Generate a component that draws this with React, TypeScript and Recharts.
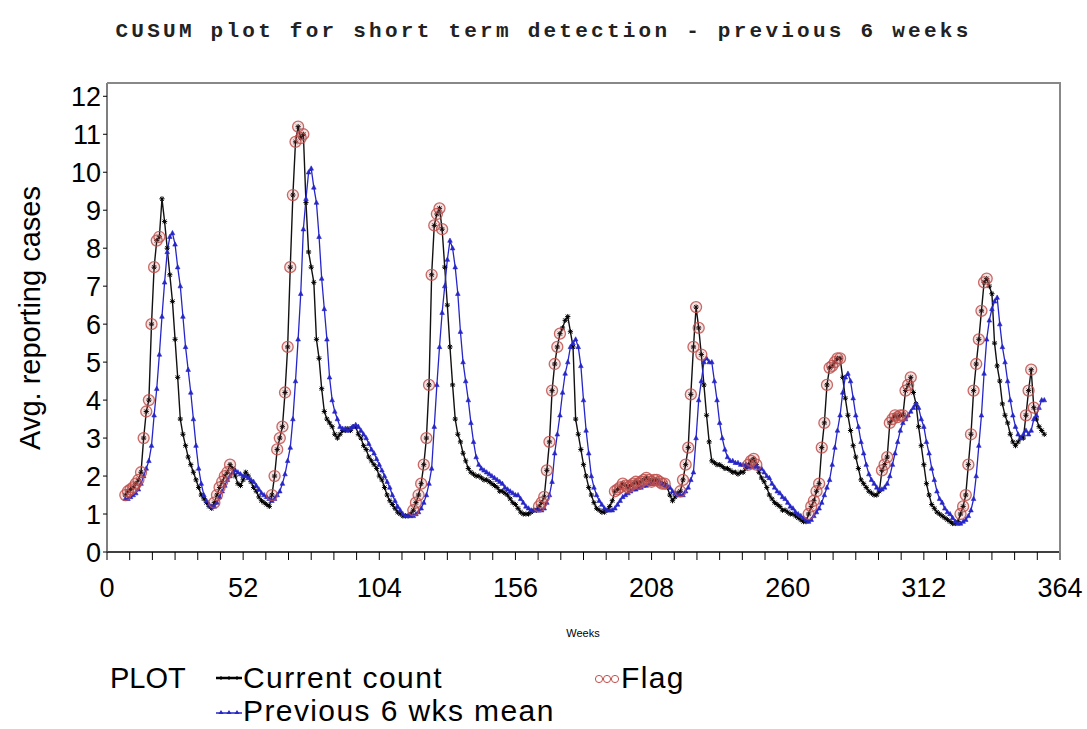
import { LineChart, Line, XAxis, YAxis } from 'recharts';

const START_WEEK = 7;

// weekly average of reporting cases, weeks 7..358
const CURRENT_COUNT = [
  1.5, 1.6, 1.65, 1.7, 1.8, 1.9, 2.1, 3.0, 3.7, 4.0,
  6.0, 7.5, 8.2, 8.3, 9.3, 8.7, 8.0, 7.3, 6.6, 5.6,
  4.6, 3.5, 3.1, 2.8, 2.5, 2.3, 2.1, 1.9, 1.7, 1.5,
  1.4, 1.3, 1.2, 1.15, 1.3, 1.5, 1.7, 1.85, 2.0, 2.1,
  2.3, 2.2, 2.0, 1.8, 1.75, 1.9, 2.1, 2.0, 1.85, 1.7,
  1.6, 1.45, 1.35, 1.3, 1.25, 1.2, 1.5, 2.0, 2.7, 3.0,
  3.3, 4.2, 5.4, 7.5, 9.4, 10.8, 11.2, 10.9, 11.0, 9.2,
  7.9, 7.5, 7.1, 5.6, 5.1, 4.3, 3.7, 3.5, 3.4, 3.3,
  3.1, 3.0, 3.1, 3.2, 3.2, 3.25, 3.2, 3.3, 3.3, 3.1,
  3.0, 2.8, 2.7, 2.5, 2.4, 2.3, 2.2, 2.0, 1.9, 1.7,
  1.5, 1.35, 1.25, 1.15, 1.05, 1.0, 0.95, 0.95, 0.95, 1.0,
  1.1, 1.3, 1.5, 1.8, 2.3, 3.0, 4.4, 7.3, 8.6, 8.9,
  9.05, 8.5, 7.5, 6.5, 5.4, 4.4, 3.5, 3.1, 2.9, 2.6,
  2.4, 2.2, 2.1, 2.05, 2.0, 2.0, 1.95, 1.9, 1.9, 1.85,
  1.8, 1.75, 1.7, 1.6, 1.6, 1.55, 1.5, 1.4, 1.3, 1.25,
  1.15, 1.05, 1.0, 1.0, 1.0, 1.05, 1.1, 1.1, 1.2, 1.3,
  1.45, 2.15, 2.9, 4.25, 4.95, 5.4, 5.75, 5.9, 6.1, 6.2,
  5.8, 5.4, 3.5, 3.1, 2.7, 2.3, 2.0, 1.7, 1.5, 1.3,
  1.15, 1.1, 1.05, 1.05, 1.1, 1.2, 1.35, 1.6, 1.65, 1.7,
  1.8, 1.75, 1.7, 1.75, 1.8, 1.85, 1.8, 1.85, 1.9, 1.95,
  1.9, 1.85, 1.9, 1.9, 1.85, 1.8, 1.8, 1.7, 1.5, 1.35,
  1.45, 1.55, 1.6, 1.9, 2.3, 2.75, 4.15, 5.4, 6.45, 5.9,
  5.2, 4.4, 3.6, 2.9, 2.4, 2.35, 2.3, 2.3, 2.25, 2.2,
  2.2, 2.15, 2.1, 2.1, 2.05, 2.1, 2.1, 2.2, 2.3, 2.4,
  2.45, 2.3, 2.1, 1.95, 1.85, 1.7, 1.5, 1.4, 1.3, 1.25,
  1.2, 1.1, 1.1, 1.05, 1.0, 1.0, 0.95, 0.9, 0.85, 0.8,
  0.8, 1.0, 1.2, 1.35, 1.6, 1.8, 2.75, 3.4, 4.4, 4.85,
  4.9, 5.0, 5.1, 5.1, 4.6, 4.05, 3.6, 3.2, 2.8, 2.5,
  2.2, 1.9, 1.8, 1.7, 1.6, 1.55, 1.5, 1.5, 1.6, 2.15,
  2.3, 2.5, 3.4, 3.5, 3.6, 3.55, 3.6, 3.6, 4.25, 4.4,
  4.6, 4.2, 3.9, 3.3, 2.8, 2.3, 1.8, 1.5, 1.25, 1.15,
  1.05, 1.0, 0.95, 0.9, 0.85, 0.8, 0.75, 0.75, 0.8, 1.0,
  1.2, 1.5, 2.3, 3.1, 4.25, 4.95, 5.6, 6.35, 7.1, 7.2,
  7.0, 6.8, 5.5, 4.9, 4.5, 3.9, 3.6, 3.4, 3.1, 2.9,
  2.8, 2.9, 3.0, 3.0, 3.6, 4.25, 4.8, 3.8, 3.5, 3.3,
  3.2, 3.1,
];

const PREV_6WK_MEAN = [
  1.4, 1.4, 1.45, 1.5, 1.55, 1.65, 1.8, 2.0, 2.2, 2.4,
  2.8, 3.6, 4.3, 5.2, 6.2, 7.1, 7.9, 8.3, 8.4, 8.1,
  7.5, 7.0, 6.2, 5.4, 4.8, 4.2, 3.5, 2.8, 2.2, 1.8,
  1.5, 1.35, 1.25, 1.2, 1.2, 1.3, 1.45, 1.6, 1.75, 1.9,
  2.0, 2.1, 2.15, 2.1, 2.05, 2.0, 2.0, 1.95, 1.9, 1.85,
  1.75, 1.65, 1.55, 1.5, 1.45, 1.4, 1.35, 1.4, 1.5, 1.6,
  1.8, 2.05, 2.4, 2.75, 3.5, 4.5, 5.6, 6.8, 8.5, 9.3,
  10.0, 10.1, 9.6, 9.2, 8.3, 7.2, 6.4, 5.6, 4.6, 4.0,
  3.7, 3.5, 3.3, 3.25, 3.25, 3.2, 3.25, 3.3, 3.35, 3.3,
  3.2, 3.1, 3.0, 2.85, 2.7, 2.6, 2.45, 2.3, 2.15, 2.0,
  1.85, 1.7, 1.5, 1.35, 1.2, 1.1, 1.0, 0.95, 0.95, 0.95,
  0.95, 1.0, 1.05, 1.15, 1.3, 1.5, 1.8, 2.2, 3.3, 4.4,
  5.4, 6.3, 7.0, 7.7, 8.2, 8.0, 7.5, 6.8, 5.8, 5.0,
  4.5, 4.0, 3.4, 2.9, 2.5, 2.3, 2.2, 2.15, 2.1, 2.05,
  2.0, 1.95, 1.9, 1.85, 1.8, 1.7, 1.65, 1.6, 1.55, 1.5,
  1.5, 1.4, 1.3, 1.2, 1.15, 1.1, 1.1, 1.1, 1.1, 1.1,
  1.15, 1.3, 1.5, 1.85, 2.6, 3.1, 3.6, 4.2, 4.7, 5.0,
  5.4, 5.5, 5.6, 5.4, 4.9, 4.0, 3.2, 2.6, 2.0, 1.7,
  1.5, 1.35, 1.25, 1.15, 1.1, 1.1, 1.1, 1.15, 1.25, 1.35,
  1.45, 1.5, 1.55, 1.6, 1.65, 1.65, 1.7, 1.7, 1.75, 1.75,
  1.8, 1.8, 1.8, 1.8, 1.85, 1.8, 1.75, 1.75, 1.7, 1.6,
  1.55, 1.5, 1.5, 1.5, 1.6, 1.7, 1.9, 2.1, 3.0, 4.0,
  4.5, 5.0, 5.1, 5.0, 5.0, 4.5, 4.0, 3.4, 3.0, 2.7,
  2.5, 2.4, 2.4, 2.35, 2.35, 2.3, 2.3, 2.3, 2.25, 2.25,
  2.25, 2.25, 2.2, 2.2, 2.1, 2.0, 1.95, 1.8, 1.7, 1.6,
  1.55, 1.45, 1.4, 1.3, 1.2, 1.15, 1.05, 1.0, 0.95, 0.9,
  0.85, 0.8, 0.85, 0.95, 1.05, 1.15, 1.3, 1.5, 1.7, 1.9,
  2.3, 2.75, 3.2, 3.6, 4.2, 4.6, 4.7, 4.5, 4.05, 3.6,
  3.3, 2.9, 2.6, 2.3, 2.05, 1.9, 1.8, 1.7, 1.65, 1.65,
  1.7, 1.8, 2.0, 2.3, 2.6, 2.9, 3.2, 3.4, 3.5, 3.6,
  3.7, 3.8, 3.9, 3.8, 3.5, 3.3, 2.9, 2.6, 2.2, 1.9,
  1.6, 1.4, 1.3, 1.15, 1.05, 1.0, 0.9, 0.8, 0.75, 0.75,
  0.8, 0.85, 0.95, 1.1, 1.4, 2.0, 2.8, 3.6, 4.7, 5.6,
  6.1, 6.4, 6.6, 6.7, 6.0, 5.4, 5.0, 4.5, 4.0, 3.6,
  3.3, 3.1, 3.0, 3.1, 3.2, 3.1, 3.2, 3.5, 3.6, 3.8,
  4.0, 4.0,
];

// week ranges (inclusive) where the CUSUM raised a flag
const FLAG_RANGES: [number, number][] = [
  [7, 20], [41, 47], [63, 75], [117, 128], [165, 173], [194, 213],
  [219, 227], [245, 248], [268, 280], [296, 307], [326, 336], [351, 354],
];

const Y_TICKS = [0, 1, 2, 3, 4, 5, 6, 7, 8, 9, 10, 11, 12];
const X_LABELS = [0, 52, 104, 156, 208, 260, 312, 364];
const X_MINOR_PER_MAJOR = 6;

const FONT = "'Liberation Sans', Arial, Helvetica, sans-serif";
const BLUE = '#2626c8';
const RED = '#c0504d';

const isFlagged = (week: number) =>
  FLAG_RANGES.some(([a, b]) => week >= a && week <= b);

const chartData = CURRENT_COUNT.map((c, i) => {
  const week = START_WEEK + i;
  return {
    week,
    current: c,
    mean: PREV_6WK_MEAN[i],
    flag: isFlagged(week) ? c : null,
  };
});

const step = 52 / X_MINOR_PER_MAJOR;
const xTicks = Array.from(
  { length: (X_LABELS.length - 1) * X_MINOR_PER_MAJOR + 1 },
  (_, i) => i * step
);

function WeekTick(props: any) {
  const { x, y, payload } = props;
  const label = X_LABELS.find((l) => Math.abs(l - payload.value) < 0.01);
  if (label === undefined) return <g />;
  return (
    <text x={x} y={y} dy="0.71em" textAnchor="middle" fontSize={27} fontFamily={FONT} fill="#000">
      {label}
    </text>
  );
}

const starDot = (p: any) => {
  const { cx, cy, index } = p;
  if (cx == null || cy == null) return <g key={`c-${index}`} />;
  const r = 2.6;
  const d = r * 0.75;
  return (
    <path
      key={`c-${index}`}
      d={`M${cx - r},${cy}H${cx + r}M${cx},${cy - r}V${cy + r}M${cx - d},${cy - d}L${cx + d},${cy + d}M${cx - d},${cy + d}L${cx + d},${cy - d}`}
      stroke="#000"
      strokeWidth={1}
      fill="none"
    />
  );
};

const triDot = (p: any) => {
  const { cx, cy, index } = p;
  if (cx == null || cy == null) return <g key={`m-${index}`} />;
  return (
    <path
      key={`m-${index}`}
      d={`M${cx},${cy - 2.6}L${cx + 2.3},${cy + 1.7}L${cx - 2.3},${cy + 1.7}Z`}
      fill={BLUE}
      stroke={BLUE}
      strokeWidth={0.6}
    />
  );
};

const flagDot = (p: any) => {
  const { cx, cy, index, value } = p;
  if (cx == null || cy == null || value == null) return <g key={`f-${index}`} />;
  return (
    <circle
      key={`f-${index}`}
      cx={cx}
      cy={cy}
      r={5.5}
      fill="rgba(180,80,70,0.18)"
      stroke={RED}
      strokeWidth={1.3}
      opacity={0.85}
    />
  );
};

function LegendSample({ kind }: { kind: 'current' | 'mean' | 'flag' }) {
  const xs = [5, 13, 21];
  return (
    <svg width={26} height={12} style={{ display: 'inline-block', verticalAlign: 'middle' }}>
      {kind === 'current' && <line x1={0} y1={4} x2={26} y2={4} stroke="#000" strokeWidth={2.5} />}
      {kind === 'mean' && <line x1={0} y1={6} x2={26} y2={6} stroke={BLUE} strokeWidth={1.5} />}
      {xs.map((x) =>
        kind === 'current' ? (
          <path key={x} d={`M${x - 2},4H${x + 2}M${x},2V6`} stroke="#000" strokeWidth={1} />
        ) : kind === 'mean' ? (
          <path key={x} d={`M${x},3L${x + 2.5},7L${x - 2.5},7Z`} fill={BLUE} />
        ) : (
          <circle key={x} cx={x} cy={5} r={3.6} fill="none" stroke={RED} strokeWidth={1} />
        )
      )}
    </svg>
  );
}

export default function App() {
  const legendText = {
    fontFamily: FONT, fontSize: 30, letterSpacing: 1.4, color: '#000',
    lineHeight: '28px', whiteSpace: 'nowrap' as const,
  };
  return (
    <div style={{ position: 'absolute', left: 0, top: 0, width: 1087, height: 729, background: '#fff', overflow: 'hidden' }}>
      <div
        style={{
          position: 'absolute', left: 0, top: 20, width: 1087, textAlign: 'center',
          fontFamily: "'Liberation Mono', 'DejaVu Sans Mono', monospace", fontWeight: 'bold',
          fontSize: 21, lineHeight: '24px', letterSpacing: 3.25, color: '#222', whiteSpace: 'nowrap',
        }}
      >
        CUSUM plot for short term detection - previous 6 weeks
      </div>

      <div
        style={{
          position: 'absolute', left: 30, top: 318, transform: 'translate(-50%, -50%) rotate(-90deg)',
          fontFamily: FONT, fontSize: 29, whiteSpace: 'nowrap', color: '#000',
        }}
      >
        Avg. reporting cases
      </div>

      <LineChart
        width={1087}
        height={729}
        data={chartData}
        margin={{ top: 83, right: 27, bottom: 117, left: 37 }}
      >
        <XAxis
          dataKey="week"
          type="number"
          domain={[0, 364]}
          ticks={xTicks}
          interval={0}
          tick={<WeekTick />}
          tickSize={8}
          tickMargin={18}
          height={60}
          axisLine={{ stroke: '#000', strokeWidth: 1.5 }}
          tickLine={{ stroke: '#000' }}
          allowDataOverflow
        />
        <YAxis
          type="number"
          domain={[0, 12.35]}
          ticks={Y_TICKS}
          interval={0}
          width={70}
          tickSize={4}
          tickMargin={2}
          tick={{ fontSize: 27, fontFamily: FONT, fill: '#000' }}
          axisLine={{ stroke: '#555', strokeWidth: 1.5 }}
          tickLine={{ stroke: '#000' }}
          allowDataOverflow
        />
        <Line
          type="linear"
          dataKey="current"
          stroke="#111"
          strokeWidth={1.4}
          dot={starDot}
          activeDot={false}
          isAnimationActive={false}
        />
        <Line
          type="linear"
          dataKey="mean"
          stroke={BLUE}
          strokeWidth={1.3}
          dot={triDot}
          activeDot={false}
          isAnimationActive={false}
        />
        <Line
          type="linear"
          dataKey="flag"
          stroke="none"
          dot={flagDot}
          activeDot={false}
          connectNulls={false}
          isAnimationActive={false}
        />
      </LineChart>

      {/* upper and right edges of the plot frame */}
      <div style={{ position: 'absolute', left: 107, top: 82, width: 954, height: 2, background: '#888' }} />
      <div style={{ position: 'absolute', left: 1059, top: 82, width: 2, height: 471, background: '#888' }} />

      <div
        style={{
          position: 'absolute', left: 583, top: 633, transform: 'translate(-50%, -50%)',
          fontFamily: FONT, fontSize: 11, color: '#000',
        }}
      >
        Weeks
      </div>

      <div style={{ position: 'absolute', left: 110, top: 664, ...legendText, fontSize: 29, letterSpacing: 0 }}>PLOT</div>
      <div style={{ position: 'absolute', left: 216, top: 664, ...legendText }}>
        <LegendSample kind="current" />
        <span style={{ marginLeft: 1 }}>Current count</span>
      </div>
      <div style={{ position: 'absolute', left: 594, top: 664, ...legendText }}>
        <LegendSample kind="flag" />
        <span style={{ marginLeft: 1 }}>Flag</span>
      </div>
      <div style={{ position: 'absolute', left: 216, top: 697, ...legendText }}>
        <LegendSample kind="mean" />
        <span style={{ marginLeft: 1 }}>Previous 6 wks mean</span>
      </div>
    </div>
  );
}
